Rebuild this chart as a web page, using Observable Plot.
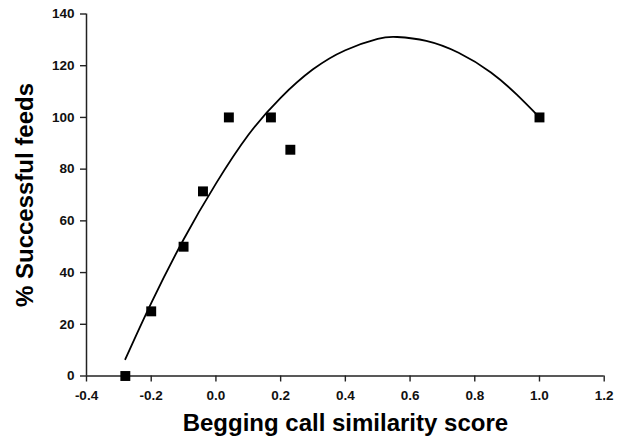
<!DOCTYPE html>
<html>
<head>
<meta charset="utf-8">
<script src="https://cdn.jsdelivr.net/npm/d3@7"></script>
<script src="https://cdn.jsdelivr.net/npm/@observablehq/plot@0.6"></script>
<style>
  html, body { margin: 0; padding: 0; background: #ffffff; }
  #chart svg { display: block; }
  #chart svg text { font-weight: bold; }
</style>
</head>
<body>
<div id="chart"></div>
<script>
// Observed points
const similarity = [-0.28, -0.2, -0.1, -0.04, 0.04, 0.17, 0.23, 1.0];
const successPct = [0, 25, 50, 71.4, 100, 100, 87.5, 100];

// Fitted curve
const fitX = [-0.28, -0.2, -0.1, 0.0, 0.1, 0.2, 0.3, 0.4, 0.5, 0.56, 0.65, 0.75, 0.85, 0.93, 1.0];
const fitY = [6.5, 28.2, 52.8, 74.4, 93.2, 107.6, 118.6, 126.0, 130.4, 131.1, 129.6, 125, 117.4, 108.8, 100];

// Axes
const xTicks = [-0.4, -0.2, 0, 0.2, 0.4, 0.6, 0.8, 1.0, 1.2];
const yTicks = [0, 20, 40, 60, 80, 100, 120, 140];
const xTitle = "Begging call similarity score";
const yTitle = "% Successful feeds";

const points = similarity.map((x, i) => ({x, y: successPct[i]}));
const fit = fitX.map((x, i) => ({x, y: fitY[i]}));

const font = "'Liberation Sans', Arial, Helvetica, sans-serif";

const chart = Plot.plot({
  width: 622,
  height: 446,
  marginLeft: 86,
  marginRight: 18.3,
  marginTop: 13.5,
  marginBottom: 70.5,
  style: {fontFamily: font, fontSize: "13.5px", background: "#ffffff", color: "#111"},
  x: {domain: [-0.4, 1.2]},
  y: {domain: [0, 140]},
  marks: [
    Plot.axisX({ticks: xTicks, tickFormat: d => d.toFixed(1), tickSize: 6, tickPadding: 8,
      label: null, stroke: "#222", strokeWidth: 1.4, fill: "#111"}),
    Plot.axisY({ticks: yTicks, tickFormat: d => String(d), tickSize: 6, tickPadding: 6,
      label: null, stroke: "#222", strokeWidth: 1.4, fill: "#111"}),
    Plot.ruleX([-0.4], {stroke: "#222", strokeWidth: 1.5}),
    Plot.ruleY([0], {stroke: "#222", strokeWidth: 1.5}),
    Plot.line(fit, {x: "x", y: "y", curve: "natural", stroke: "#000", strokeWidth: 1.8}),
    Plot.dot(points, {x: "x", y: "y", symbol: "square", r: 5.6, fill: "#000", stroke: "none"}),
    Plot.text([xTitle], {frameAnchor: "bottom", textAnchor: "middle", dy: 54.8, fontSize: 24, fontWeight: "bold", fill: "#000"}),
    Plot.text([yTitle], {frameAnchor: "left", textAnchor: "middle", dx: -60.7, rotate: -90, fontSize: 24, fontWeight: "bold", fill: "#000"})
  ]
});

// Tick labels (everything except the two titles)
d3.select(chart).selectAll("text").each(function() {
  const t = this.textContent;
  if (t !== xTitle && t !== yTitle) {
    this.style.fontSize = "13.5px";
    this.style.fontWeight = "bold";
  }
});

document.getElementById("chart").appendChild(chart);
</script>
</body>
</html>
